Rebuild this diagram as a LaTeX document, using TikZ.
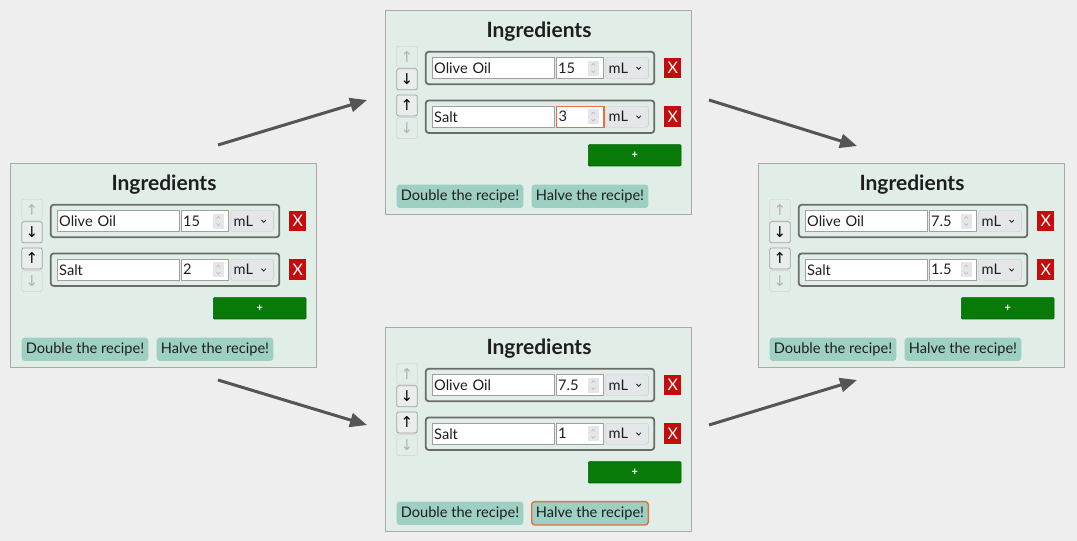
\documentclass[tikz,border=0pt]{standalone}
\usepackage{fontspec}
\setmainfont{Lato}
\newfontfamily\arrowfont{DejaVu Sans}
\usetikzlibrary{arrows.meta,calc}
\definecolor{PageBg}{HTML}{EEEEEE}
\definecolor{CardFill}{HTML}{E1EEE8}
\definecolor{CardEdge}{HTML}{A9A9A9}
\definecolor{RowEdge}{HTML}{6B6B6B}
\definecolor{FieldEdge}{HTML}{A0A0A0}
\definecolor{UnitFill}{HTML}{E5E6EA}
\definecolor{DeleteRed}{HTML}{C40C0C}
\definecolor{AddGreen}{HTML}{077A07}
\definecolor{RecipeTeal}{HTML}{9DCFC2}
\definecolor{FocusOrange}{HTML}{EA6C43}
\definecolor{FlowGray}{HTML}{555555}
\definecolor{InkDark}{HTML}{1E1E1E}

% one recipe card: #1 name, (#2,#3) top left, #4 oil, #5 salt,
% #6 style of the salt amount, #7 style of the halve button
\newcommand{\recipecard}[7]{%
  \begin{scope}[shift={(#2,#3)}]
    \node[card, anchor=north west] (#1) at (0,0) {};
    \node[cardtitle] (#1-title) at (154,21.5) {Ingredients};
    \foreach \row/\ing/\amt/\yy/\upst/\downst/\numst in
      {oil/Olive Oil/#4/58/moveoff/moveon/plainnum, salt/Salt/#5/106.7/moveon/moveoff/#6}{
      \node[movebtn, style=\upst] (#1-\row-up) at (22,\yy-11.3) {↑};
      \node[movebtn, style=\downst] (#1-\row-down) at (22,\yy+11.3) {↓};
      \node[rowbox] (#1-\row) at (155,\yy) {};
      \node[field, text width=117.8pt] (#1-\row-name) at (46.7,\yy) {\ing};
      \node[field, text width=43.1pt, style=\numst] (#1-\row-amt) at (170.7,\yy) {\amt};
      \fill[UnitFill] (203,\yy-7.5) rectangle (213.5,\yy+7.5);
      \draw[spinmark] (206.5,\yy-2.5) -- (208.2,\yy-4.5) -- (210,\yy-2.5);
      \draw[spinmark] (206.5,\yy+2.5) -- (208.2,\yy+4.5) -- (210,\yy+2.5);
      \node[unitbox] (#1-\row-unit) at (242,\yy) {};
      \node[bodytext, anchor=west] (#1-\row-ml) at (223.5,\yy) {mL};
      \draw[InkDark, line width=0.8pt] (251.5,\yy-1) -- (253.7,\yy+1.3) -- (255.9,\yy-1);
      \node[delbtn] (#1-\row-del) at (287.7,\yy) {X};
    }
    \node[addbtn] (#1-add) at (249.7,145.3) {+};
    \node[recipebtn, minimum width=126.6pt] (#1-double) at (75,186.3) {Double the recipe!};
    \node[recipebtn, minimum width=116.6pt, style=#7] (#1-halve) at (205,186.3) {Halve the recipe!};
  \end{scope}}

\begin{document}
\begin{tikzpicture}[
  x=1pt, y=-1pt,
  bodytext/.style={font=\fontsize{14.6}{16}\selectfont, text=InkDark, inner sep=0pt},
  card/.style={rectangle, draw=CardEdge, fill=CardFill, line width=1.4pt, minimum width=306pt, minimum height=204pt, inner sep=0pt},
  cardtitle/.style={font=\fontsize{21}{24}\selectfont\bfseries, text=InkDark, inner sep=0pt},
  movebtn/.style={rectangle, rounded corners=2pt, line width=0.8pt, minimum width=20.5pt, minimum height=21pt, inner sep=0pt, font=\arrowfont\fontsize{15}{17}\selectfont},
  moveon/.style={draw=FieldEdge, fill=CardFill!85!gray!50, text=black},
  moveoff/.style={draw=CardEdge!45, text=gray!60},
  rowbox/.style={rectangle, draw=RowEdge, line width=1.8pt, rounded corners=3pt, minimum width=228.6pt, minimum height=32.5pt, inner sep=0pt},
  field/.style={bodytext, rectangle, anchor=west, draw=FieldEdge, fill=white, line width=0.6pt, minimum height=21pt, inner xsep=2.2pt, inner ysep=0pt, align=left},
  plainnum/.style={},
  focusnum/.style={draw=FocusOrange, line width=1.4pt},
  spinmark/.style={draw=gray!60, line width=0.5pt},
  unitbox/.style={rectangle, draw=FieldEdge!60, fill=UnitFill, rounded corners=2pt, minimum width=42.6pt, minimum height=21pt, inner sep=0pt},
  delbtn/.style={rectangle, fill=DeleteRed, text=white, minimum width=16.7pt, minimum height=20.5pt, inner sep=0pt, font=\fontsize{16}{18}\selectfont},
  addbtn/.style={rectangle, fill=AddGreen, draw=AddGreen!75!black, line width=0.6pt, rounded corners=1pt, text=white, minimum width=92.7pt, minimum height=21.3pt, inner sep=0pt, font=\fontsize{11}{13}\selectfont\bfseries},
  recipebtn/.style={bodytext, rectangle, fill=RecipeTeal, rounded corners=3pt, minimum height=23.3pt},
  plainbtn/.style={},
  focusbtn/.style={draw=FocusOrange, line width=1.4pt},
  flow/.style={draw=FlowGray, line width=3pt, -{Triangle[length=17pt,width=14pt]}},
]
\fill[PageBg] (0,0) rectangle (1077,541);
\useasboundingbox (0,0) rectangle (1077,541);

\recipecard{start}{10}{163}{15}{2}{plainnum}{plainbtn}
\recipecard{more}{385}{10}{15}{3}{focusnum}{plainbtn}
\recipecard{half}{385}{327}{7.5}{1}{plainnum}{focusbtn}
\recipecard{done}{758}{163}{7.5}{1.5}{plainnum}{plainbtn}

% flow between the states
\coordinate (up-from) at (218,145);
\coordinate (up-to) at (367,100);
\coordinate (down-from) at (218,380);
\coordinate (down-to) at (367,425);
\coordinate (more-from) at (709,100);
\coordinate (more-to) at (857,146);
\coordinate (half-from) at (709,425);
\coordinate (half-to) at (857,380);
\draw[flow] (up-from) -- (up-to);
\draw[flow] (down-from) -- (down-to);
\draw[flow] (more-from) -- (more-to);
\draw[flow] (half-from) -- (half-to);
\end{tikzpicture}
\end{document}
